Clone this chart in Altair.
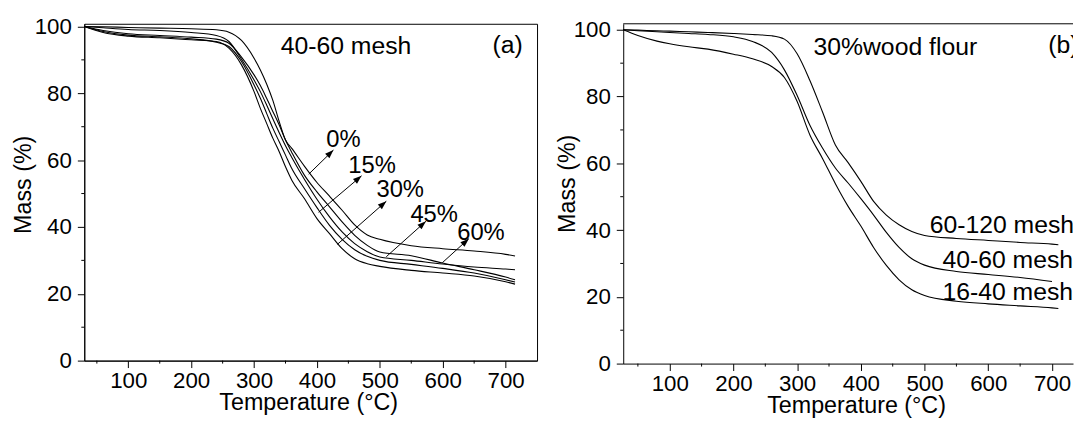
import math
import altair as alt
import pandas as pd

FONT = "Liberation Sans"

# ---------------- Panel (a): 40-60 mesh, different wood flour contents ----------------
TEMP_A = [30, 60, 100, 150, 200, 240, 260, 280, 300, 310, 320, 330, 340, 350, 360, 380,
          400, 420, 440, 460, 480, 500, 550, 600, 650, 700, 715]
MASS_A_0 = [100, 99.9, 99.7, 99.5, 99.3, 99.0, 98.3, 95.8, 90.5, 87.0, 82.8, 77.8, 71.5,
            66.0, 63.5, 58.2, 53.3, 49.2, 45.0, 40.6, 37.6, 36.3, 34.4, 33.5, 32.8, 31.8, 31.3]
MASS_A_15 = [100, 99.6, 99.1, 98.8, 98.2, 97.3, 95.5, 90.2, 84.0, 80.5, 76.5, 72.3, 68.2,
             64.3, 60.8, 54.3, 48.3, 43.0, 38.5, 35.0, 32.6, 31.0, 30.0, 28.9, 28.0, 27.4, 27.2]
MASS_A_30 = [100, 98.8, 97.8, 97.3, 96.8, 96.2, 95.0, 90.8, 85.5, 82.3, 78.5, 74.5, 70.5,
             66.0, 62.3, 55.5, 50.5, 46.0, 41.5, 37.5, 34.5, 32.5, 31.4, 29.2, 27.2, 25.0, 24.2]
MASS_A_45 = [100, 98.5, 97.4, 96.9, 96.3, 95.3, 94.0, 89.5, 82.5, 78.5, 74.0, 69.5, 65.5,
             61.5, 57.5, 51.5, 45.8, 40.5, 36.3, 33.2, 31.2, 30.0, 28.8, 27.6, 26.2, 24.2, 23.5]
MASS_A_60 = [100, 98.2, 97.1, 96.6, 96.0, 95.5, 93.5, 88.5, 80.5, 75.5, 71.0, 66.5, 62.5,
             58.0, 54.0, 48.5, 42.5, 38.0, 33.5, 30.5, 29.0, 28.2, 27.0, 26.2, 25.3, 23.6, 22.9]
SERIES_A = ["0%", "15%", "30%", "45%", "60%"]

ARROW_LABELS = ["0%", "15%", "30%", "45%", "60%"]
ARROW_T0 = [386.9, 402.6, 432.5, 510.3, 599.4]
ARROW_M0 = [55.8, 44.4, 34.8, 31.1, 29.3]
ARROW_T1 = [426.2, 470.9, 510.3, 573.3, 641.5]
ARROW_M1 = [63.0, 55.3, 47.7, 41.7, 36.5]
LABEL_T = [414.7, 449.8, 494.6, 548.6, 623.0]
LABEL_M = [63.9, 56.0, 48.9, 41.5, 36.0]

NOTES_A = ["40-60 mesh", "(a)"]
NOTES_A_T = [342.3, 679.3]
NOTES_A_M = [91.8, 92.1]

# ---------------- Panel (b): 30% wood flour, different particle sizes ----------------
TEMP_B = [27, 50, 80, 100, 130, 160, 200, 230, 260, 280, 300, 320, 340, 360, 380, 400,
          420, 440, 460, 480, 500, 550, 600, 650, 700, 710]
MASS_B_60_120 = [100, 99.9, 99.7, 99.6, 99.4, 99.2, 98.9, 98.6, 98.2, 97.2, 92.8, 84.8, 75.3,
                 65.5, 60.2, 54.6, 48.6, 44.5, 41.6, 39.6, 38.4, 37.5, 36.9, 36.3, 35.8, 35.6]
MASS_B_40_60 = [100, 99.7, 99.4, 99.2, 98.9, 98.6, 97.9, 96.5, 93.2, 88.0, 80.3, 71.4, 64.5,
                58.6, 54.1, 49.4, 44.5, 39.3, 34.8, 31.4, 29.5, 27.6, 26.7, 25.8, 24.6, None]
MASS_B_16_40 = [100, 98.3, 96.6, 95.8, 94.9, 94.2, 92.7, 91.3, 89.0, 85.7, 78.5, 68.5, 61.4,
                53.9, 47.1, 41.2, 34.8, 29.4, 25.1, 22.1, 20.4, 18.7, 17.9, 17.3, 16.7, 16.5]
SERIES_B = ["60-120 mesh", "40-60 mesh", "16-40 mesh"]

NOTES_B = ["30%wood flour", "(b)", "60-120 mesh", "40-60 mesh", "16-40 mesh"]
NOTES_B_T = [325.6, 694.2, 508.0, 528.0, 528.0]
NOTES_B_M = [92.5, 93.0, 39.0, 28.6, 19.0]

# axis tick values
X_MAJOR = [100, 200, 300, 400, 500, 600, 700]
X_MINOR = [50, 150, 250, 350, 450, 550, 650]
Y_MAJOR = [0, 20, 40, 60, 80, 100]
Y_MINOR = [10, 30, 50, 70, 90]

# ---------------- layout / scales ----------------
W_A, H_A = 457, 340
W_B, H_B = 454, 343
XA_DOM, YA_DOM = [30, 750], [0, 100.8]
XB_DOM, YB_DOM = [27, 733], [0, 101.8]


def long_table(temps, names, columns):
    rows = []
    for name, vals in zip(names, columns):
        for t, m in zip(temps, vals):
            if m is not None:
                rows.append({"series": name, "T": t, "M": m})
    return pd.DataFrame(rows)


df_a = long_table(TEMP_A, SERIES_A, [MASS_A_0, MASS_A_15, MASS_A_30, MASS_A_45, MASS_A_60])
df_b = long_table(TEMP_B, SERIES_B, [MASS_B_60_120, MASS_B_40_60, MASS_B_16_40])

sx_a = W_A / (XA_DOM[1] - XA_DOM[0])
sy_a = H_A / (YA_DOM[1] - YA_DOM[0])
df_arrows = pd.DataFrame({
    "label": ARROW_LABELS, "T0": ARROW_T0, "M0": ARROW_M0, "T1": ARROW_T1, "M1": ARROW_M1,
})
df_arrows["angle"] = [
    math.degrees(math.atan2((t1 - t0) * sx_a, (m1 - m0) * sy_a)) % 360
    for t0, m0, t1, m1 in zip(ARROW_T0, ARROW_M0, ARROW_T1, ARROW_M1)
]
df_labels = pd.DataFrame({"label": ARROW_LABELS, "T": LABEL_T, "M": LABEL_M})
df_notes_a = pd.DataFrame({"label": NOTES_A, "T": NOTES_A_T, "M": NOTES_A_M})
df_notes_b = pd.DataFrame({"label": NOTES_B, "T": NOTES_B_T, "M": NOTES_B_M})
df_xminor = pd.DataFrame({"v": X_MINOR})
df_yminor = pd.DataFrame({"v": Y_MINOR})
df_one = pd.DataFrame({"k": [0]})

LABEL_SIZE = 22.5
TITLE_SIZE = 23.5


def x_axis(title_x, title_y):
    return alt.Axis(
        values=X_MAJOR, tickSize=7, labelOverlap=False, labelFlush=False, grid=False,
        labelPadding=2, labelFontSize=LABEL_SIZE, labelFont=FONT, labelColor="black",
        title="Temperature (°C)", titleX=title_x, titleY=title_y,
        titleAlign="center", titleBaseline="alphabetic",
        titleFontSize=TITLE_SIZE, titleFont=FONT, titleFontWeight="normal", titleColor="black",
        tickColor="black", domainColor="black",
    )


def y_axis(title_x, title_y):
    return alt.Axis(
        values=Y_MAJOR, tickSize=7, labelOverlap=False, labelFlush=False, grid=False,
        labelPadding=6, labelFontSize=LABEL_SIZE, labelFont=FONT, labelColor="black",
        title="Mass (%)", titleX=title_x, titleY=title_y, titleAngle=270,
        titleAlign="center", titleBaseline="alphabetic",
        titleFontSize=TITLE_SIZE, titleFont=FONT, titleFontWeight="normal", titleColor="black",
        tickColor="black", domainColor="black",
    )


def minor_ticks(xscale, yscale, height):
    xm = alt.Chart(df_xminor).mark_rule(color="black", strokeWidth=1).encode(
        x=alt.X("v:Q", scale=xscale), y=alt.value(height), y2=alt.value(height + 3)
    )
    ym = alt.Chart(df_yminor).mark_rule(color="black", strokeWidth=1).encode(
        y=alt.Y("v:Q", scale=yscale), x=alt.value(0), x2=alt.value(-3)
    )
    return xm, ym


xa = alt.Scale(domain=XA_DOM, nice=False, zero=False)
ya = alt.Scale(domain=YA_DOM, nice=False, zero=False)
xb = alt.Scale(domain=XB_DOM, nice=False, zero=False)
yb = alt.Scale(domain=YB_DOM, nice=False, zero=False)

ARROW_PATH = "M0,0 L-0.36,1 L0.36,1 Z"

# ---------- panel (a) ----------
lines_a = alt.Chart(df_a).mark_line(color="black", strokeWidth=1.1, interpolate="monotone").encode(
    x=alt.X("T:Q", scale=xa, axis=x_axis(226, 49.5)),
    y=alt.Y("M:Q", scale=ya, axis=y_axis(-54, 162)),
    detail="series:N",
)
arrow_lines = alt.Chart(df_arrows).mark_rule(color="black", strokeWidth=1).encode(
    x=alt.X("T0:Q", scale=xa), y=alt.Y("M0:Q", scale=ya), x2="T1:Q", y2="M1:Q",
)
arrow_heads = alt.Chart(df_arrows).mark_point(
    shape=ARROW_PATH, filled=True, color="black", size=300, opacity=1, strokeWidth=0
).encode(
    x=alt.X("T1:Q", scale=xa), y=alt.Y("M1:Q", scale=ya), angle=alt.Angle("angle:Q", scale=None),
)
labels_a = alt.Chart(df_labels).mark_text(
    align="left", baseline="alphabetic", fontSize=24, font=FONT, color="black"
).encode(x=alt.X("T:Q", scale=xa), y=alt.Y("M:Q", scale=ya), text="label:N")
notes_a = alt.Chart(df_notes_a).mark_text(
    align="left", baseline="alphabetic", fontSize=25, font=FONT, color="black"
).encode(x=alt.X("T:Q", scale=xa), y=alt.Y("M:Q", scale=ya), text="label:N")
xm_a, ym_a = minor_ticks(xa, ya, H_A)

panel_a = alt.layer(lines_a, xm_a, ym_a, arrow_lines, arrow_heads, labels_a, notes_a).properties(
    width=W_A, height=H_A
)

# ---------- panel (b) ----------
lines_b = alt.Chart(df_b).mark_line(color="black", strokeWidth=1.1, interpolate="monotone").encode(
    x=alt.X("T:Q", scale=xb, axis=x_axis(235, 49.5)),
    y=alt.Y("M:Q", scale=yb, axis=y_axis(-49.5, 161)),
    detail="series:N",
)
notes_b = alt.Chart(df_notes_b).mark_text(
    align="left", baseline="alphabetic", fontSize=25, font=FONT, color="black", clip=True
).encode(x=alt.X("T:Q", scale=xb), y=alt.Y("M:Q", scale=yb), text="label:N")
top_border_b = alt.Chart(df_one).mark_rule(color="black", strokeWidth=1).encode(
    x=alt.value(0), x2=alt.value(W_B), y=alt.value(0)
)
xm_b, ym_b = minor_ticks(xb, yb, H_B)

panel_b = alt.layer(lines_b, xm_b, ym_b, notes_b, top_border_b).properties(
    width=W_B, height=H_B, view=alt.ViewBackground(stroke="transparent")
)

chart = alt.hconcat(panel_a, panel_b, spacing=87, bounds="flush").properties(
    padding={"left": 3, "top": 5, "right": 0, "bottom": 0}, background="white"
).configure_view(
    stroke="black", strokeWidth=1
)

chart.save("out.html", embed_options={"renderer": "svg", "actions": False})
